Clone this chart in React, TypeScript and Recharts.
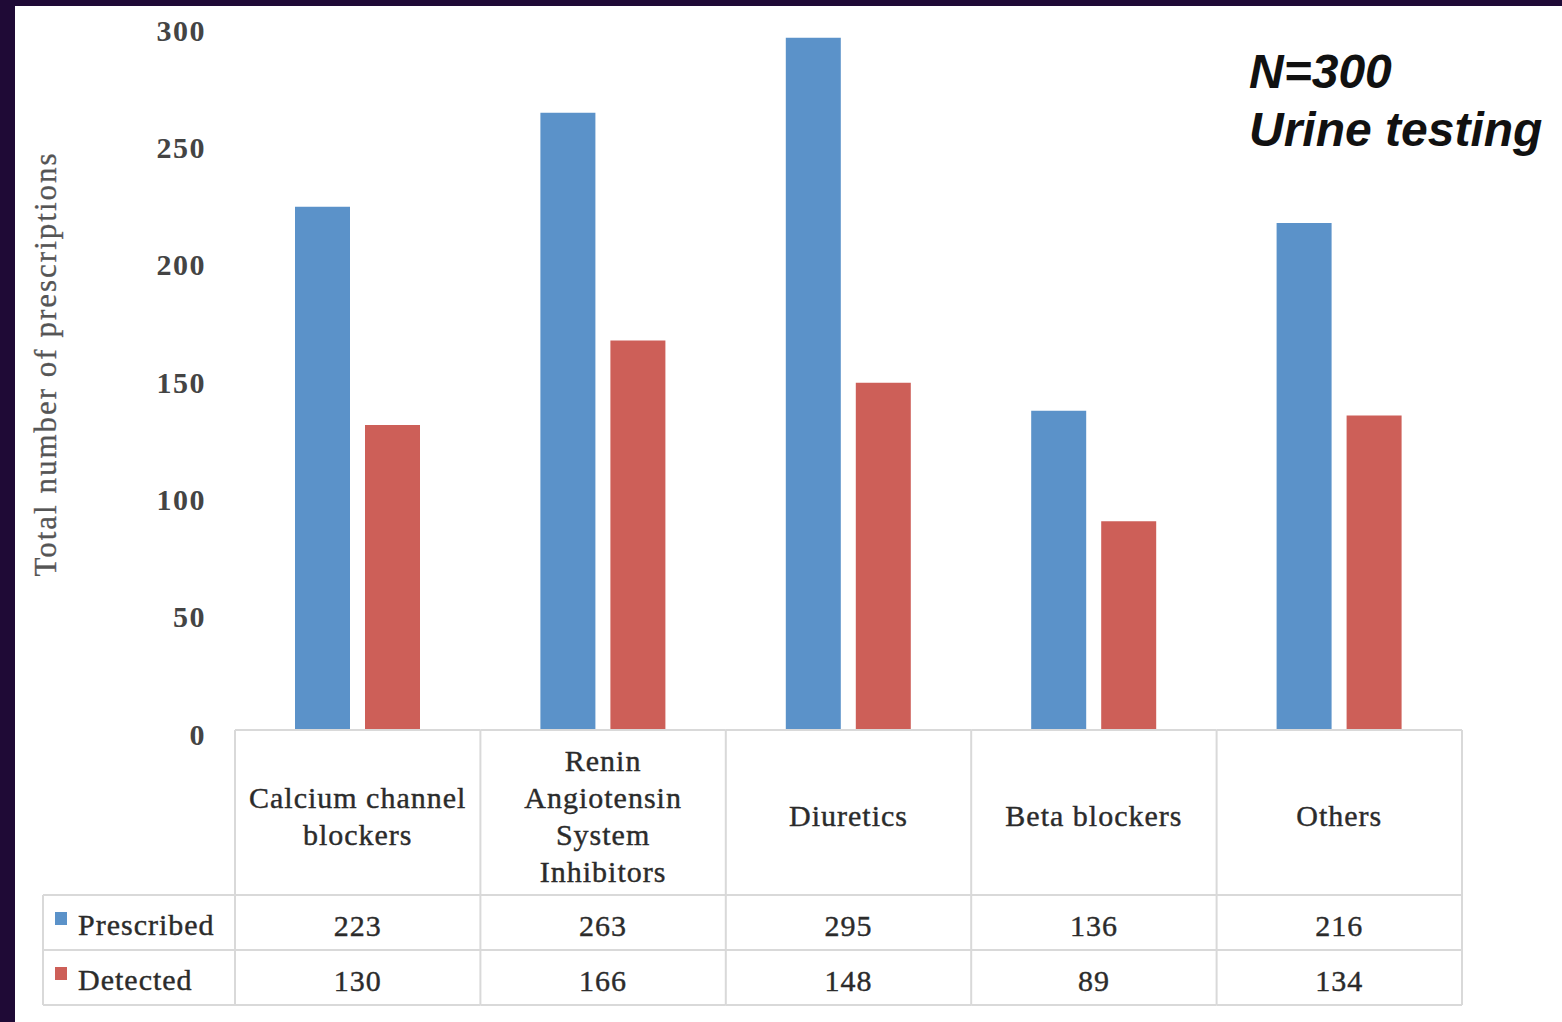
import React from 'react';
import { BarChart, Bar, XAxis, YAxis } from 'recharts';

const categories = [
  ['Calcium channel', 'blockers'],
  ['Renin', 'Angiotensin', 'System', 'Inhibitors'],
  ['Diuretics'],
  ['Beta blockers'],
  ['Others'],
];
const prescribed = [223, 263, 295, 136, 216];
const detected = [130, 166, 148, 89, 134];
const yTicks = [0, 50, 100, 150, 200, 250, 300];

const series = [
  { key: 'prescribed', name: 'Prescribed', color: '#5B92C9', values: prescribed },
  { key: 'detected', name: 'Detected', color: '#CD5F58', values: detected },
];

const data = categories.map((lines, i) => ({
  name: lines.join(' '),
  prescribed: prescribed[i],
  detected: detected[i],
}));

const WIDTH = 1562;
const HEIGHT = 1022;
const margin = { top: 26, right: 100, left: 120, bottom: 17 };
const Y_AXIS_WIDTH = 115;
const X_AXIS_HEIGHT = 275;

// table geometry below the plot
const HEADER_H = 165;
const ROW_H = 55;
const LEGEND_W = 192;
const GRID = '#d9d9d9';
const SERIF = '"Liberation Serif", "Times New Roman", serif';
const TEXT = '#2b2b2b';

const plotWidth = WIDTH - margin.left - margin.right - Y_AXIS_WIDTH;
const band = plotWidth / categories.length;

const cellText = {
  fontFamily: SERIF,
  fontSize: 30,
  letterSpacing: 1,
  fill: TEXT,
  stroke: TEXT,
  strokeWidth: 0.4,
  dominantBaseline: 'central' as const,
};

const TableTick = (props: any) => {
  const { x, y, payload } = props;
  const i = payload.index;
  const left = x - band / 2;
  const right = x + band / 2;
  const lines = categories[i];
  const lineH = 37;
  const headerMid = y + HEADER_H / 2 + 3;
  const firstLine = headerMid - ((lines.length - 1) * lineH) / 2;
  const bottom = y + HEADER_H + ROW_H * series.length;

  return (
    <g>
      <line x1={left} y1={y} x2={right} y2={y} stroke={GRID} strokeWidth={2} />
      <line x1={left} y1={y} x2={left} y2={bottom} stroke={GRID} strokeWidth={2} />
      {i === categories.length - 1 && (
        <line x1={right} y1={y} x2={right} y2={bottom} stroke={GRID} strokeWidth={2} />
      )}
      {lines.map((t, k) => (
        <text key={t} x={x} y={firstLine + k * lineH} textAnchor="middle" {...cellText}>
          {t}
        </text>
      ))}
      {series.map((s, r) => {
        const top = y + HEADER_H + r * ROW_H;
        return (
          <g key={s.key}>
            <line x1={left} y1={top} x2={right} y2={top} stroke={GRID} strokeWidth={2} />
            <text x={x} y={top + ROW_H / 2 + 3} textAnchor="middle" {...cellText}>
              {s.values[i]}
            </text>
          </g>
        );
      })}
      <line x1={left} y1={bottom} x2={right} y2={bottom} stroke={GRID} strokeWidth={2} />
      {i === 0 && (
        <g>
          {series.map((s, r) => {
            const top = y + HEADER_H + r * ROW_H;
            return (
              <g key={s.key}>
                <line x1={left - LEGEND_W} y1={top} x2={left} y2={top} stroke={GRID} strokeWidth={2} />
                <rect x={left - LEGEND_W + 12} y={top + 17} width={12} height={13} fill={s.color} />
                <text x={left - LEGEND_W + 35} y={top + ROW_H / 2 + 2} {...cellText}>
                  {s.name}
                </text>
              </g>
            );
          })}
          <line x1={left - LEGEND_W} y1={bottom} x2={left} y2={bottom} stroke={GRID} strokeWidth={2} />
          <line
            x1={left - LEGEND_W}
            y1={y + HEADER_H}
            x2={left - LEGEND_W}
            y2={bottom}
            stroke={GRID}
            strokeWidth={2}
          />
        </g>
      )}
    </g>
  );
};

const ValueTick = (props: any) => {
  const { x, y, payload } = props;
  return (
    <text
      x={x}
      y={y + 4}
      textAnchor="end"
      dominantBaseline="central"
      fontFamily={SERIF}
      fontSize={30}
      fontWeight="bold"
      letterSpacing={1.5}
      fill="#444444"
    >
      {payload.value}
    </text>
  );
};

const YTitle = (props: any) => {
  const { viewBox } = props;
  const cx = 45;
  const cy = viewBox.y + viewBox.height / 2 - 14;
  return (
    <text
      x={cx}
      y={cy}
      transform={`rotate(-90, ${cx}, ${cy})`}
      textAnchor="middle"
      dominantBaseline="central"
      fontFamily={SERIF}
      fontSize={31}
      letterSpacing={2}
      fill="#555555"
      stroke="#555555"
      strokeWidth={0.3}
    >
      Total number of prescriptions
    </text>
  );
};

export default function App() {
  return (
    <div
      style={{
        position: 'absolute',
        left: 0,
        top: 0,
        width: WIDTH,
        height: HEIGHT,
        background: '#1f0a36',
        overflow: 'hidden',
      }}
    >
      <div
        style={{
          position: 'absolute',
          left: 15,
          top: 6,
          right: 0,
          bottom: 0,
          background: '#ffffff',
        }}
      />
      <div
        style={{
          position: 'absolute',
          left: 1249,
          top: 43,
          fontFamily: '"Liberation Sans", Arial, sans-serif',
          fontWeight: 'bold',
          fontStyle: 'italic',
          fontSize: 48,
          lineHeight: '58px',
          color: '#111111',
        }}
      >
        <div>N=300</div>
        <div>Urine testing</div>
      </div>
      <div style={{ position: 'absolute', left: 0, top: 0 }}>
        <BarChart width={WIDTH} height={HEIGHT} data={data} margin={margin} barSize={55} barGap={15}>
          <XAxis
            dataKey="name"
            height={X_AXIS_HEIGHT}
            axisLine={false}
            tickLine={false}
            tickSize={0}
            tickMargin={0}
            interval={0}
            tick={<TableTick />}
          />
          <YAxis
            width={Y_AXIS_WIDTH}
            domain={[0, 300]}
            ticks={yTicks}
            axisLine={false}
            tickLine={false}
            tickMargin={23}
            tick={<ValueTick />}
            label={{ content: <YTitle /> }}
          />
          {series.map((s) => (
            <Bar key={s.key} dataKey={s.key} name={s.name} fill={s.color} isAnimationActive={false} />
          ))}
        </BarChart>
      </div>
    </div>
  );
}
